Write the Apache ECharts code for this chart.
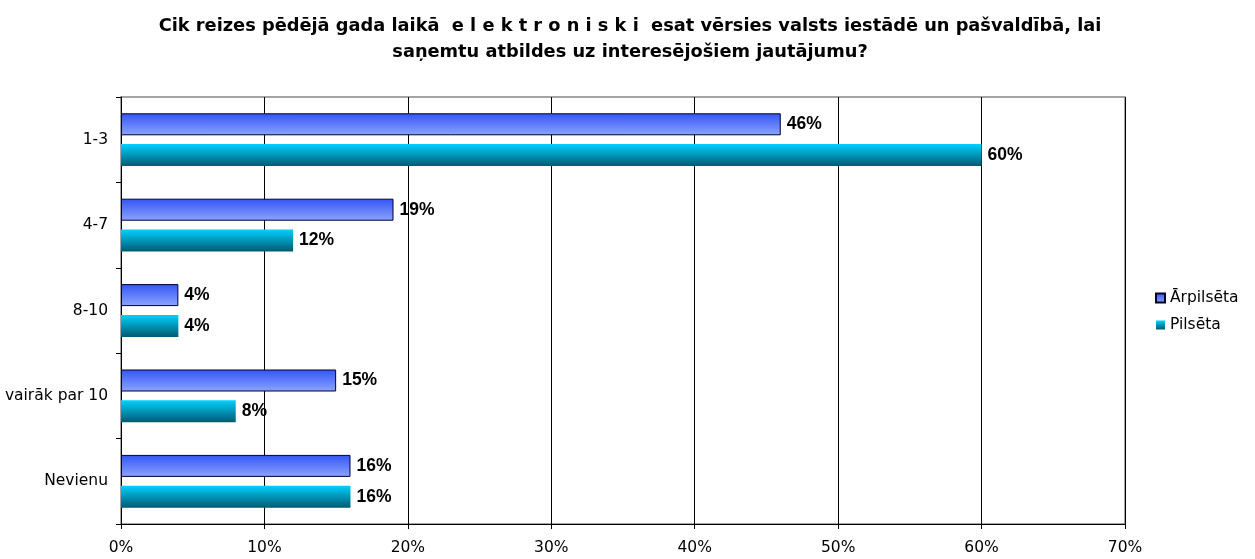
<!DOCTYPE html>
<html><head><meta charset="utf-8">
<script src="https://cdn.jsdelivr.net/npm/echarts@6/dist/echarts.min.js"></script>
<style>html,body{margin:0;padding:0;background:#fff}#c{width:1255px;height:559px}</style>
</head><body><div id="c"></div>
<script>
const titleText = 'Cik reizes pēdējā gada laikā  e l e k t r o n i s k i  esat vērsies valsts iestādē un pašvaldībā, lai\nsaņemtu atbildes uz interesējošiem jautājumu?';
const categories = ['1-3', '4-7', '8-10', 'vairāk par 10', 'Nevienu'];
const seriesNames = ['Ārpilsēta', 'Pilsēta'];
const arpilseta = [46, 19, 4, 15, 16];
const pilseta = [60, 12, 4, 8, 16];
const xTicks = [0, 10, 20, 30, 40, 50, 60, 70];

const FONT = 'Liberation Sans, Arial, sans-serif';
const FONT2 = 'DejaVu Sans, sans-serif';
const chart = echarts.init(document.getElementById('c'), null, {renderer: 'canvas'});
const blueGrad = new echarts.graphic.LinearGradient(0, 0, 0, 1, [
  {offset: 0, color: '#3355f5'}, {offset: 1, color: '#8ca4ff'}]);
const cyanGrad = new echarts.graphic.LinearGradient(0, 0, 0, 1, [
  {offset: 0, color: '#00d0ff'}, {offset: 1, color: '#005a70'}]);
const labelCfg = {show: true, position: 'right', distance: 6, formatter: '{c}%',
  fontFamily: FONT, fontSize: 17.5, fontWeight: 'bold', color: '#000'};
chart.setOption({
  animation: false,
  backgroundColor: '#fff',
  title: {text: titleText, left: 625, textAlign: 'center', top: 8,
    textStyle: {fontFamily: FONT2, fontSize: 17.8, fontWeight: 'bold', color: '#000', lineHeight: 26}},
  legend: {orient: 'vertical', left: 1150, top: 285, itemWidth: 9, itemHeight: 9, itemGap: 11,
    icon: 'rect', textStyle: {fontFamily: FONT2, fontSize: 15.5, color: '#000'}, data: seriesNames},
  grid: {left: 121, right: 130, top: 97, bottom: 35, show: true, borderColor: '#888', borderWidth: 1.5},
  xAxis: {type: 'value', min: xTicks[0], max: xTicks[xTicks.length - 1], interval: 10,
    axisLabel: {formatter: '{value}%', fontFamily: FONT2, fontSize: 15.5, color: '#000', margin: 16},
    axisLine: {show: true, lineStyle: {color: '#000'}},
    axisTick: {show: true, length: 5, lineStyle: {color: '#000'}},
    splitLine: {show: true, lineStyle: {color: '#000', width: 1}}},
  yAxis: {type: 'category', inverse: true, data: categories,
    axisLabel: {fontFamily: FONT2, fontSize: 15.5, color: '#000', margin: 13},
    axisLine: {show: true, lineStyle: {color: '#000'}},
    axisTick: {show: true, length: 5, lineStyle: {color: '#000'}}},
  series: [
    {name: seriesNames[0], type: 'bar', data: arpilseta, barWidth: 22, barGap: '40%',
      itemStyle: {color: blueGrad, borderColor: '#000033', borderWidth: 1}, label: labelCfg},
    {name: seriesNames[1], type: 'bar', data: pilseta, barWidth: 22,
      itemStyle: {color: cyanGrad}, label: labelCfg}
  ]
});
</script></body></html>
